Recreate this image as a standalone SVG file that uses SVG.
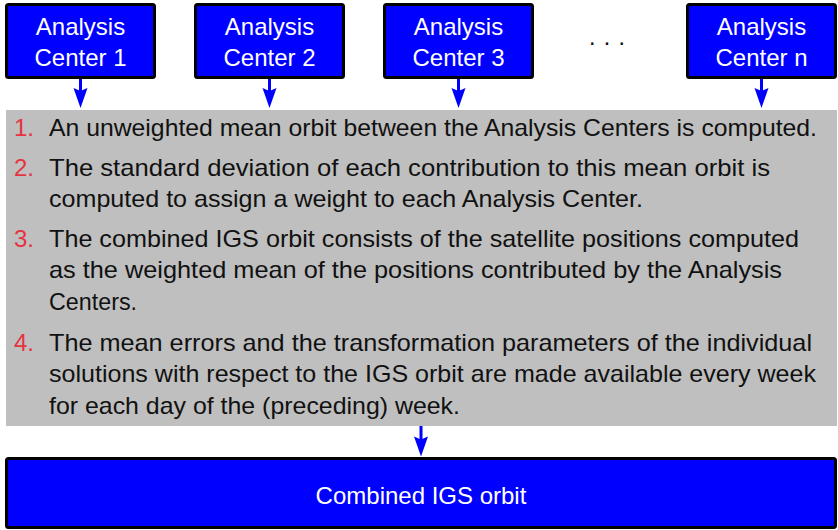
<svg xmlns="http://www.w3.org/2000/svg" width="838" height="530" viewBox="0 0 838 530">
<style>
text{font-family:"Liberation Sans",Arial,sans-serif;font-size:24px}
.box{fill:#0000ff;stroke:#000;stroke-width:3}
.wt{fill:#fff;text-anchor:middle}
.num{fill:#e5333f}
.tx{fill:#111}
.arr{stroke:#0000ff;stroke-width:3;fill:none}
.head{fill:#0000ff}
</style>
<defs>
<path id="ah" class="head" d="M-7,-20 L0,0 L7,-20 L0,-17 Z"/>
</defs>
<rect x="6" y="110" width="831" height="316" fill="#bfbfbf"/>
<g id="ac1"><rect class="box" x="6.5" y="4.5" width="148" height="73" rx="2"/><text class="wt" x="80.5" y="34.5">Analysis</text><text class="wt" x="80.5" y="66">Center 1</text></g>
<g id="ac2"><rect class="box" x="195.5" y="4.5" width="148" height="73" rx="2"/><text class="wt" x="269.5" y="34.5">Analysis</text><text class="wt" x="269.5" y="66">Center 2</text></g>
<g id="ac3"><rect class="box" x="384.5" y="4.5" width="148" height="73" rx="2"/><text class="wt" x="458.5" y="34.5">Analysis</text><text class="wt" x="458.5" y="66">Center 3</text></g>
<g id="dots"><text class="tx" x="607" y="50" text-anchor="middle">· · ·</text></g>
<g id="acn"><rect class="box" x="687.5" y="4.5" width="148" height="73" rx="2"/><text class="wt" x="761.5" y="34.5">Analysis</text><text class="wt" x="761.5" y="66">Center n</text></g>
<g id="steps">
<text class="num" x="14" y="136">1.</text>
<text class="tx" x="49" y="136" textLength="768" lengthAdjust="spacingAndGlyphs">An unweighted mean orbit between the Analysis Centers is computed.</text>
<text class="num" x="14" y="175.5">2.</text>
<text class="tx" x="49" y="175.5" textLength="721" lengthAdjust="spacingAndGlyphs">The standard deviation of each contribution to this mean orbit is</text>
<text class="tx" x="49" y="207" textLength="594" lengthAdjust="spacingAndGlyphs">computed to assign a weight to each Analysis Center.</text>
<text class="num" x="14" y="246.5">3.</text>
<text class="tx" x="49" y="246.5" textLength="750" lengthAdjust="spacingAndGlyphs">The combined IGS orbit consists of the satellite positions computed</text>
<text class="tx" x="49" y="278" textLength="733" lengthAdjust="spacingAndGlyphs">as the weighted mean of the positions contributed by the Analysis</text>
<text class="tx" x="49" y="310" textLength="88" lengthAdjust="spacingAndGlyphs">Centers.</text>
<text class="num" x="14" y="350.5">4.</text>
<text class="tx" x="49" y="350.5" textLength="763" lengthAdjust="spacingAndGlyphs">The mean errors and the transformation parameters of the individual</text>
<text class="tx" x="49" y="382" textLength="767" lengthAdjust="spacingAndGlyphs">solutions with respect to the IGS orbit are made available every week</text>
<text class="tx" x="49" y="413.5" textLength="411" lengthAdjust="spacingAndGlyphs">for each day of the (preceding) week.</text>
</g>
<g id="combined"><rect class="box" x="6.5" y="458.5" width="829" height="69" rx="2"/><text class="wt" x="421" y="503.5">Combined IGS orbit</text></g>
<g id="connectors">
<line class="arr" x1="80.5" y1="79" x2="80.5" y2="92"/><use href="#ah" x="80.5" y="108"/>
<line class="arr" x1="269.5" y1="79" x2="269.5" y2="92"/><use href="#ah" x="269.5" y="108"/>
<line class="arr" x1="458.5" y1="79" x2="458.5" y2="92"/><use href="#ah" x="458.5" y="108"/>
<line class="arr" x1="761.5" y1="79" x2="761.5" y2="92"/><use href="#ah" x="761.5" y="108"/>
<line class="arr" x1="421" y1="426" x2="421" y2="440"/><use href="#ah" x="421" y="456.5"/>
</g>
</svg>
